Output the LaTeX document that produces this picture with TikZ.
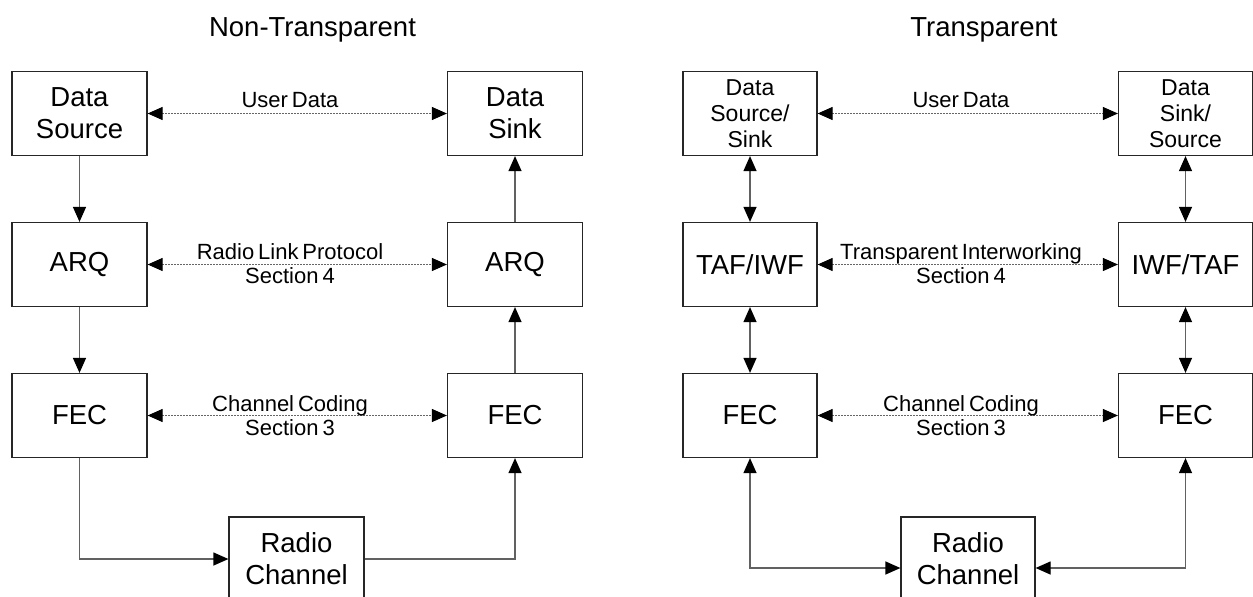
\documentclass[tikz,border=0pt]{standalone}
\usepackage{fontspec}
\setmainfont{Liberation Sans}
\usetikzlibrary{arrows.meta}
\newcommand\boxfont{\fontsize{27.5}{32}\selectfont}
\newcommand\smallboxfont{\fontsize{23}{26}\selectfont}
\newcommand\labelfont{\fontsize{22}{24}\selectfont\spaceskip=0.18em plus 0.05em}
\tikzset{
  blk/.style={draw=black!85, line width=1.2pt, minimum width=135pt,
    minimum height=84pt, inner sep=0pt, align=center, font=\boxfont},
  smallblk/.style={blk, font=\smallboxfont},
  link/.style={draw=black!62, line width=1.2pt,
    >={Triangle[length=15pt,width=13pt,color=black]}},
  peer/.style={draw=black!60, line width=1.1pt, dash pattern=on 1.6pt off 1.4pt,
    {Triangle[length=15pt,width=13pt,color=black]}-{Triangle[length=15pt,width=13pt,color=black]}},
  lbl/.style={font=\labelfont, inner sep=0pt, align=center},
  ttl/.style={font=\boxfont, inner sep=0pt, anchor=base}
}
\begin{document}
\begin{tikzpicture}[x=1pt,y=-1pt]
\clip (0,0) rectangle (1253,597);
\fill[white] (0,0) rectangle (1253,597);

% ---------------- Non-transparent service ----------------
\node[ttl] (t1) at (312.5,36) {Non-Transparent};

\node[blk] (ds)   at (79.5,113.5) {Data\\Source};
\node[blk] (dk)   at (515,113.5)  {Data\\Sink};
\node[blk] (arq1) at (79.5,264.5) {ARQ};
\node[blk] (arq2) at (515,264.5)  {ARQ};
\node[blk] (fec1) at (79.5,415.5) {FEC};
\node[blk] (fec2) at (515,415.5)  {FEC};
\node[blk] (rc1)  at (296.5,559)  {Radio\\Channel};

\draw[link,->] (ds) -- (arq1);
\draw[link,->] (arq1) -- (fec1);
\draw[link,->] (fec1) |- (rc1);
\draw[link,->] (rc1) -| (fec2);
\draw[link,->] (fec2) -- (arq2);
\draw[link,->] (arq2) -- (dk);

\draw[peer] (ds) -- (dk);
\draw[peer] (arq1) -- (arq2);
\draw[peer] (fec1) -- (fec2);

\node[lbl, anchor=base] (l1) at (290,107) {User Data};
\node[lbl] (l2) at (290,264) {Radio Link Protocol\\Section 4};
\node[lbl] (l3) at (290,416) {Channel Coding\\Section 3};

% ---------------- Transparent service ----------------
\node[ttl] (t2) at (984,36) {Transparent};

\node[smallblk, minimum width=134pt] (tsrc) at (750,113.5)  {Data\\Source/\\Sink};
\node[smallblk, minimum width=134pt] (tsnk) at (1185.5,113.5) {Data\\Sink/\\Source};
\node[blk, minimum width=134pt] (taf)  at (750,264.5)  {TAF/IWF};
\node[blk, minimum width=134pt] (iwf)  at (1185.5,264.5) {IWF/TAF};
\node[blk, minimum width=134pt] (fec3) at (750,415.5)  {FEC};
\node[blk, minimum width=134pt] (fec4) at (1185.5,415.5) {FEC};
\node[blk, minimum width=134pt] (rc2)  at (968,559)    {Radio\\Channel};

\coordinate (rc2w) at ([yshift=-9pt]rc2.west);
\coordinate (rc2e) at ([yshift=-9pt]rc2.east);

\draw[link,<->] (tsrc) -- (taf);
\draw[link,<->] (taf) -- (fec3);
\draw[link,<->] (fec3) |- (rc2w);
\draw[link,<->] (rc2e) -| (fec4);
\draw[link,<->] (fec4) -- (iwf);
\draw[link,<->] (iwf) -- (tsnk);

\draw[peer] (tsrc) -- (tsnk);
\draw[peer] (taf) -- (iwf);
\draw[peer] (fec3) -- (fec4);

\node[lbl, anchor=base] (l4) at (961,107) {User Data};
\node[lbl] (l5) at (961,264) {Transparent Interworking\\Section 4};
\node[lbl] (l6) at (961,416) {Channel Coding\\Section 3};
\end{tikzpicture}
\end{document}
